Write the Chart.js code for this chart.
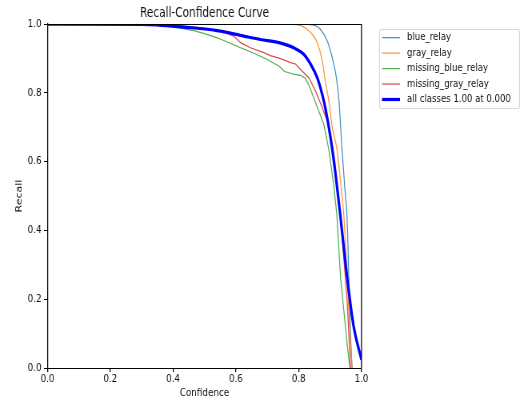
<!DOCTYPE html>
<html>
<head>
<meta charset="utf-8">
<script src="https://cdn.jsdelivr.net/npm/chart.js@4"></script>
<style>
  html, body { margin: 0; padding: 0; background: #fff; }
  #wrap { width: 523px; height: 402px; overflow: hidden; }
  /* the reference figure is squeezed horizontally (~0.8), so draw wider and squeeze */
  #chart { transform: scaleX(0.8); transform-origin: 0 0; }
</style>
</head>
<body>
<div id="wrap"><canvas id="chart" width="654" height="402"></canvas></div>
<script>
const labels = ['blue_relay', 'gray_relay', 'missing_blue_relay', 'missing_gray_relay', 'all classes 1.00 at 0.000'];
const colors = ['rgba(31,119,180,0.85)', 'rgba(255,127,14,0.85)', 'rgba(44,160,44,0.85)', 'rgba(214,39,40,0.85)', '#0000ff'];
const xTicks = [0, 0.2, 0.4, 0.6, 0.8, 1.0];

const blueRelayX = [0, 0.80, 0.848, 0.869, 0.891, 0.907, 0.92, 0.928, 0.938, 0.949, 0.954, 0.960, 0.965, 0.970];
const blueRelayY = [1, 1, 0.997, 0.985, 0.951, 0.902, 0.844, 0.78, 0.635, 0.499, 0.44, 0.25, 0.10, 0];

const grayRelayX = [0, 0.78, 0.811, 0.838, 0.859, 0.875, 0.885, 0.896, 0.907, 0.922, 0.938, 0.944, 0.954, 0.962, 0.970];
const grayRelayY = [1, 0.999, 0.994, 0.975, 0.946, 0.892, 0.834, 0.776, 0.699, 0.635, 0.499, 0.44, 0.27, 0.12, 0];

const missBlueX = [0, 0.30, 0.39, 0.466, 0.50, 0.54, 0.58, 0.615, 0.65, 0.689, 0.715, 0.737, 0.755, 0.774, 0.79, 0.806, 0.82, 0.832, 0.848, 0.864, 0.88, 0.896, 0.912, 0.922, 0.933, 0.954, 0.963];
const missBlueY = [1, 1, 0.994, 0.981, 0.972, 0.96, 0.945, 0.931, 0.918, 0.902, 0.889, 0.878, 0.862, 0.857, 0.853, 0.851, 0.843, 0.824, 0.786, 0.747, 0.708, 0.635, 0.528, 0.44, 0.266, 0.073, 0];

const missGrayX = [0, 0.30, 0.45, 0.551, 0.593, 0.615, 0.646, 0.689, 0.71, 0.74, 0.774, 0.79, 0.806, 0.832, 0.854, 0.875, 0.891, 0.901, 0.915, 0.933, 0.954, 0.965];
const missGrayY = [1, 1, 0.993, 0.98, 0.965, 0.946, 0.931, 0.917, 0.908, 0.9, 0.888, 0.884, 0.868, 0.844, 0.805, 0.757, 0.718, 0.683, 0.60, 0.44, 0.20, 0];

const allX = [0, 0.30, 0.434, 0.54, 0.625, 0.678, 0.737, 0.784, 0.816, 0.838, 0.859, 0.875, 0.885, 0.896, 0.907, 0.922, 0.933, 0.954, 0.975, 1.0];
const allY = [1, 0.999, 0.991, 0.981, 0.965, 0.955, 0.946, 0.931, 0.912, 0.883, 0.844, 0.795, 0.755, 0.70, 0.635, 0.528, 0.44, 0.266, 0.121, 0.024];

const pts = (xs, ys) => xs.map((x, i) => ({x: x, y: ys[i]}));
const seriesX = [blueRelayX, grayRelayX, missBlueX, missGrayX, allX];
const seriesY = [blueRelayY, grayRelayY, missBlueY, missGrayY, allY];

const font = 'DejaVu Sans';
const txt = '#111';
const AXL = 59.375, AXR = 451.875;   // canvas px (x0.8 on screen)

// matplotlib-style box spines + legend with frame
const framePlugin = {
    id: 'frame',
    afterLayout(chart) {
        // centre the title over the axes, not the whole canvas
        if (chart.titleBlock) {
            chart.titleBlock.left = chart.chartArea.left;
            chart.titleBlock.right = chart.chartArea.right;
            chart.titleBlock.width = chart.chartArea.right - chart.chartArea.left;
        }
    },
    afterDatasetsDraw(chart) {
        const {ctx, chartArea: a} = chart;
        ctx.save();
        ctx.strokeStyle = '#000';
        ctx.lineWidth = 1;
        ctx.beginPath();
        ctx.moveTo(a.left, Math.round(a.top) + 0.5);
        ctx.lineTo(a.right, Math.round(a.top) + 0.5);
        ctx.stroke();
        ctx.lineWidth = 1.25;
        ctx.beginPath();
        ctx.moveTo(a.right, a.top);
        ctx.lineTo(a.right, a.bottom);
        ctx.stroke();
        ctx.restore();
    },
    afterDraw(chart) {
        const ctx = chart.ctx;
        const bx = 474.4, by = 29.5, bw = 175, bh = 79;
        ctx.save();
        ctx.fillStyle = 'rgba(255,255,255,0.8)';
        ctx.strokeStyle = '#d6d6d6';
        ctx.lineWidth = 1.1;
        ctx.beginPath();
        ctx.roundRect(bx, by, bw, bh, 2.5);
        ctx.fill();
        ctx.stroke();
        ctx.font = '10.7px "' + font + '"';
        ctx.textBaseline = 'middle';
        ctx.fillStyle = txt;
        chart.data.datasets.forEach((ds, i) => {
            const yy = 37.7 + i * 15.45;
            ctx.strokeStyle = ds.borderColor;
            ctx.lineWidth = ds.borderWidth;
            ctx.beginPath();
            ctx.moveTo(477.5, yy);
            ctx.lineTo(500, yy);
            ctx.stroke();
            ctx.fillText(ds.label, 508.75, yy);
        });
        ctx.restore();
    }
};

new Chart(document.getElementById('chart'), {
    type: 'line',
    data: {
        datasets: labels.map((l, i) => ({
            label: l,
            data: pts(seriesX[i], seriesY[i]),
            borderColor: colors[i],
            borderWidth: i === 4 ? 3.2 : 1.2,
            pointRadius: 0,
            fill: false,
            tension: 0,
            cubicInterpolationMode: (i === 2 || i === 3) ? 'default' : 'monotone',
            order: i === 4 ? 0 : 5 - i
        }))
    },
    options: {
        responsive: false,
        animation: false,
        layout: {padding: {left: 0, right: 654 - AXR, top: 0, bottom: 0}},
        plugins: {
            legend: {display: false},
            tooltip: {enabled: false},
            title: {
                display: true,
                text: 'Recall-Confidence Curve',
                color: txt,
                font: {family: font, size: 13.2, weight: 'normal'},
                padding: {top: 6.1, bottom: 2.1}
            }
        },
        scales: {
            x: {
                type: 'linear', min: 0, max: 1,
                grid: {display: true, drawOnChartArea: false, drawTicks: true, tickLength: 4, color: '#000', lineWidth: 1.25},
                border: {display: true, color: '#000', width: 1},
                afterBuildTicks: (s) => { s.ticks = xTicks.map(v => ({value: v})); },
                afterFit: (s) => { s.height = 34; },
                ticks: {
                    color: txt, padding: 0.5, maxRotation: 0,
                    font: {family: font, size: 11},
                    callback: (v) => (+v).toFixed(1)
                },
                title: {display: true, text: 'Confidence', color: txt,
                        font: {family: font, size: 11}, padding: {top: 0, bottom: 2.4}}
            },
            y: {
                type: 'linear', min: 0, max: 1,
                grid: {display: true, drawOnChartArea: false, drawTicks: true, tickLength: 4.4, color: '#000', lineWidth: 1},
                border: {display: true, color: '#000', width: 1.25},
                afterBuildTicks: (s) => { s.ticks = xTicks.map(v => ({value: v})); },
                afterFit: (s) => { s.width = AXL; },
                ticks: {
                    color: txt, padding: 3.1,
                    font: {family: font, size: 11},
                    callback: (v) => (+v).toFixed(1)
                },
                title: {display: true, text: 'Recall', color: txt,
                        font: {family: font, size: 11}, padding: {top: 17.1, bottom: 0}}
            }
        }
    },
    plugins: [framePlugin]
});
</script>
</body>
</html>
